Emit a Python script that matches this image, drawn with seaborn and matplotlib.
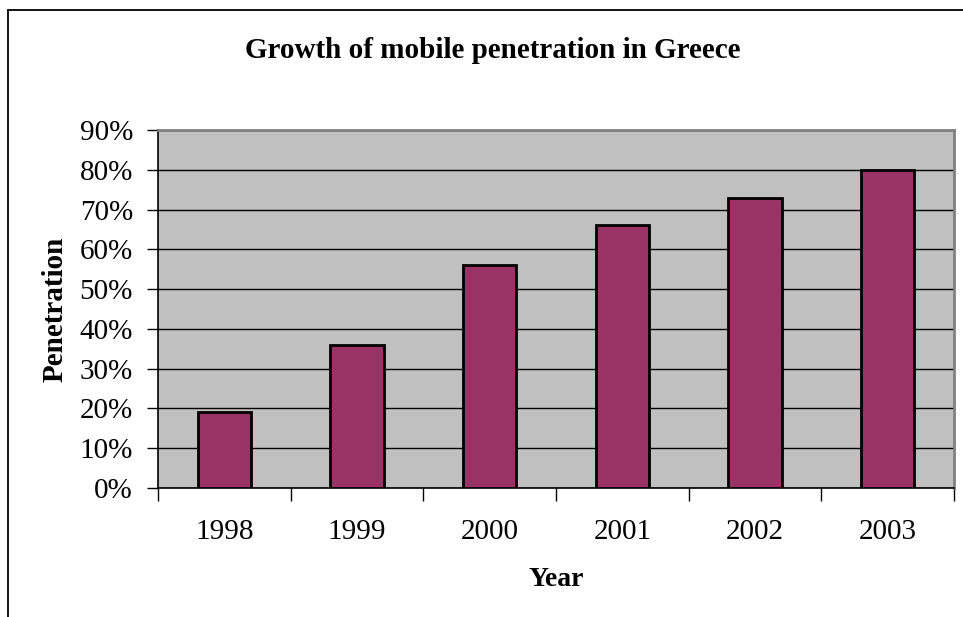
import matplotlib
matplotlib.use("Agg")
import matplotlib.pyplot as plt
from matplotlib.lines import Line2D
from matplotlib.ticker import FixedLocator, FuncFormatter
import seaborn as sns
import pandas as pd

years = ["1998", "1999", "2000", "2001", "2002", "2003"]
penetration = [19, 36, 56, 66, 73, 80]
y_ticks = [0, 10, 20, 30, 40, 50, 60, 70, 80, 90]

sns.set_style("white")
plt.rcParams["font.family"] = ["Liberation Serif", "DejaVu Serif"]
plt.rcParams["text.color"] = "black"
plt.rcParams["axes.labelcolor"] = "black"
plt.rcParams["xtick.color"] = "black"
plt.rcParams["ytick.color"] = "black"

W, H = 963, 617
fig = plt.figure(figsize=(W / 100, H / 100), dpi=100)
left, right, top, bottom = 158, 954, 130, 488
ax = fig.add_axes([left / W, 1 - bottom / H, (right - left) / W, (bottom - top) / H])

df = pd.DataFrame({"Year": years, "Penetration": penetration})
sns.barplot(data=df, x="Year", y="Penetration", ax=ax, color="#993366",
            saturation=1, width=0.4, edgecolor="black", linewidth=2, zorder=3)

ax.set_facecolor("#C0C0C0")
ax.set_ylim(0, 90)
ax.set_xlim(-0.5, len(years) - 0.5)

ax.yaxis.set_major_locator(FixedLocator(y_ticks))
ax.yaxis.set_major_formatter(FuncFormatter(lambda v, p: f"{v:.0f}%"))
ax.grid(axis="y", color="black", linewidth=1, zorder=1)
ax.set_axisbelow(True)

# category boundaries carry the tick marks, centers carry the labels
ax.set_xticks([i - 0.5 for i in range(len(years) + 1)])
ax.set_xticklabels([])
ax.set_xticks(range(len(years)), minor=True)
ax.set_xticklabels(years, minor=True)
ax.tick_params(axis="x", which="major", direction="out", length=9, width=1, color="black", bottom=True)
ax.tick_params(axis="x", which="minor", length=0, pad=22, labelsize=21)
ax.tick_params(axis="y", direction="out", length=8, width=1, color="black", left=True, labelsize=21, pad=10)

for side in ("left", "bottom"):
    ax.spines[side].set_color("black")
    ax.spines[side].set_linewidth(1.2)
for side in ("top", "right"):
    ax.spines[side].set_color("#808080")
    ax.spines[side].set_linewidth(2)

ax.set_xlabel("Year", fontsize=20, fontweight="bold", labelpad=16)
ax.set_ylabel("Penetration", fontsize=21, fontweight="bold", labelpad=8)
fig.text((241 + 745) / 2 / W, 1 - 50 / H, "Growth of mobile penetration in Greece",
         ha="center", va="center", fontsize=21, fontweight="bold")

# chart frame
fx, fy = 8 / W, 1 - 10 / H
fig.add_artist(Line2D([fx, fx], [0, fy], color="black", linewidth=1.3, transform=fig.transFigure))
fig.add_artist(Line2D([fx, 1], [fy, fy], color="black", linewidth=1.3, transform=fig.transFigure))

fig.savefig("out.png", dpi=100)
